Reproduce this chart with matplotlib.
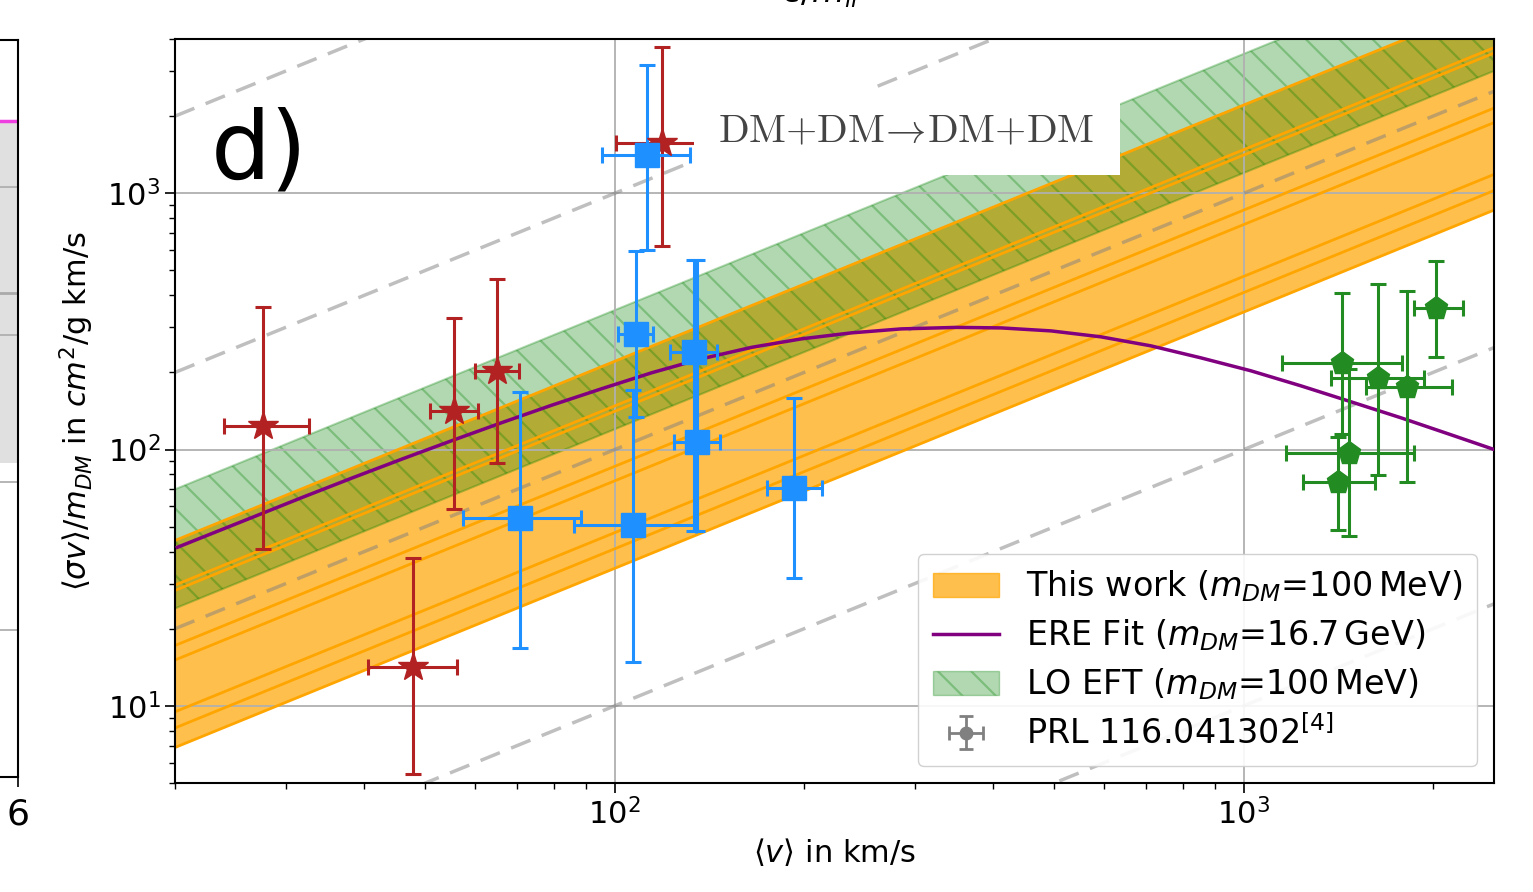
import numpy as np
import matplotlib
matplotlib.use("Agg")
import matplotlib.pyplot as plt
from matplotlib.patches import Patch
from matplotlib.lines import Line2D

# ---- data (v in km/s, <sigma v>/m in cm^2/g km/s) ----
# dwarfs (red stars)
red_v = [27.6, 47.7, 55.5, 65.0, 118.7]
red_v_lo = [23.9, 40.5, 50.8, 60.0, 100.4]
red_v_hi = [32.6, 56.1, 60.6, 70.5, 140.6]
red_y = [124, 14.2, 141, 203, 1571]
red_y_lo = [40.8, 5.43, 58.4, 89, 622]
red_y_hi = [360, 37.7, 326, 462, 3706]

# LSB galaxies (blue squares)
blue_v = [112.7, 108.0, 133.6, 134.9, 70.7, 107.1, 192.4]
blue_v_lo = [95.6, 101.1, 122.3, 124.1, 57.4, 86.1, 174.9]
blue_v_hi = [131.5, 114.9, 145.2, 146.8, 88.3, 134.5, 213.9]
blue_y = [1415, 283.5, 240.5, 106.8, 54.0, 50.6, 71.1]
blue_y_lo = [600, 134.4, 47.9, 47.9, 16.8, 14.8, 31.5]
blue_y_hi = [3170, 598, 547, 547, 168, 170.8, 159.4]

# clusters (green pentagons)
green_v = [2024, 1431, 1633, 1820, 1472, 1410]
green_v_lo = [1862, 1149, 1374, 1562, 1166, 1241]
green_v_hi = [2232, 1782, 1931, 2147, 1866, 1615]
green_y = [357, 218, 191, 176, 97.3, 74.5]
green_y_lo = [230, 115, 79.3, 74.5, 45.8, 48.4]
green_y_hi = [543, 408, 442, 416, 207, 112]

# ERE fit curve (purple)
ere_v = [20.17, 26.53, 31.86, 38.24, 45.91, 55.12, 66.16, 79.43, 95.37, 114.5,
         137.4, 165.0, 198.1, 237.8, 285.5, 349.1, 411.6, 494.0, 592.9, 711.9,
         854.5, 1025.9, 1231.6, 1478.6, 1775.0, 2131, 2502]
ere_y = [41.56, 54.37, 65.06, 77.47, 91.84, 108.4, 127.4, 149.0, 172.8, 199.4,
         226.0, 250.5, 270.4, 285.3, 295.7, 299.7, 298.3, 290.4, 275.3, 253.9,
         228.0, 203.0, 177.4, 153.8, 133.2, 114.4, 100]

# constant sigma/m lines in cm^2/g
this_work_sm = [0.344, 0.41, 0.474, 0.755, 0.86, 1.41, 1.48, 2.21]
lo_eft_sm = [1.2, 3.5]
ref_sm = [0.01, 0.1, 1, 10, 100]

v_range = np.array([20, 2500])

plt.rcParams['mathtext.fontset'] = 'dejavusans'
plt.rcParams['hatch.linewidth'] = 1.6
fig = plt.figure(figsize=(15.33, 8.92), dpi=100)
ax = fig.add_axes([0.1142, 0.1222, 0.8604, 0.8341])

# reference lines
for s in ref_sm:
    ax.plot(v_range, s * v_range, ls='--', color='gray', alpha=0.5, lw=2.5,
            dashes=(6, 3.5), zorder=2)

# this work band
ax.fill_between(v_range, min(this_work_sm) * v_range, max(this_work_sm) * v_range,
                facecolor='orange', alpha=0.7, lw=0, zorder=1)
for s in this_work_sm:
    ax.plot(v_range, s * v_range, color='orange', lw=2, zorder=2)

# LO EFT band
ax.fill_between(v_range, lo_eft_sm[0] * v_range, lo_eft_sm[1] * v_range,
                facecolor='green', edgecolor='green', alpha=0.3, hatch='\\', lw=1.5, zorder=1.1)

ax.plot(ere_v, ere_y, color='purple', lw=2.5, zorder=3)

def draw(v, vlo, vhi, y, ylo, yhi, color, marker, ms):
    v = np.array(v); y = np.array(y)
    xerr = [v - np.array(vlo), np.array(vhi) - v]
    yerr = [y - np.array(ylo), np.array(yhi) - y]
    ax.errorbar(v, y, xerr=xerr, yerr=yerr, fmt=marker, color=color, ms=ms,
                elinewidth=2.2, capsize=6, capthick=2.2, zorder=4)

draw(red_v, red_v_lo, red_v_hi, red_y, red_y_lo, red_y_hi, '#b22222', '*', 22)
draw(blue_v, blue_v_lo, blue_v_hi, blue_y, blue_y_lo, blue_y_hi, '#1e90ff', 's', 17)
draw(green_v, green_v_lo, green_v_hi, green_y, green_y_lo, green_y_hi, '#228b22', 'p', 17)

ax.set_xscale('log')
ax.set_yscale('log')
ax.set_xlim(20, 2500)
ax.set_ylim(5, 4000)
ax.grid(True, which='major', color='#b0b0b0', lw=1.3)
ax.tick_params(which='major', labelsize=22, length=7, width=1.2)
ax.tick_params(which='minor', length=4, width=1)
for sp in ax.spines.values():
    sp.set_linewidth(1.5)

ax.set_xlabel(r'$\langle v\rangle$ in km/s', fontsize=22, labelpad=4)
ax.set_ylabel(r'$\langle \sigma v\rangle/m_{DM}$ in $cm^2$/g km/s', fontsize=22, labelpad=8)

ax.text(0.027, 0.813, 'd)', transform=ax.transAxes, fontsize=68, va='baseline')
ax.text(0.412, 0.875, r'DM+DM$\!\rightarrow\!$DM+DM', transform=ax.transAxes,
        fontsize=29, color='#444444', family='cmr10', math_fontfamily='cm',
        va='center', ha='left',
        bbox=dict(facecolor='white', edgecolor='none', pad=18), zorder=5)

# legend
h_err = ax.errorbar([np.nan], [np.nan], xerr=[1], yerr=[1], fmt='o', color='gray',
                    ms=9, elinewidth=2, capsize=5, capthick=2)
handles = [Patch(facecolor='orange', edgecolor='orange', alpha=0.7),
           Line2D([], [], color='purple', lw=2.5),
           Patch(facecolor='green', edgecolor='green', alpha=0.3, hatch='\\'),
           h_err]
labels = [r'This work ($m_{DM}$=100$\,$MeV)',
          r'ERE Fit ($m_{DM}$=16.7$\,$GeV)',
          r'LO EFT ($m_{DM}$=100$\,$MeV)',
          r'PRL 116.041302$^{[4]}$']
ax.legend(handles, labels, loc='lower right', fontsize=24, handlelength=2.0,
          borderpad=0.45, labelspacing=0.4, framealpha=0.9)

# fragment of the neighbouring panel on the left
axl = fig.add_axes([-0.3, 0.129, 0.3117, 0.826])
axl.set_xlim(0, 6)
axl.set_ylim(0, 1)
axl.axhspan(0.426, 0.89, color='#e0e0e0', lw=0)
axl.axhline(0.89, color='#ee40e0', lw=2.5)
axl.axhline(0.657, color='#aaaaaa', lw=2)
for g in [0.2, 0.4, 0.6, 0.8]:
    axl.axhline(g, color='#b0b0b0', lw=1.3)
axl.set_xticks([6])
axl.set_yticks([])
axl.tick_params(labelsize=26, length=7, width=1.2, pad=8)
for sp in axl.spines.values():
    sp.set_linewidth(1.5)

# fragment of the label of the panel above
fig.text(0.51, 0.9975, r'$c/m_{ll}$', fontsize=24, va='baseline')

fig.savefig('out.png', dpi=100)
